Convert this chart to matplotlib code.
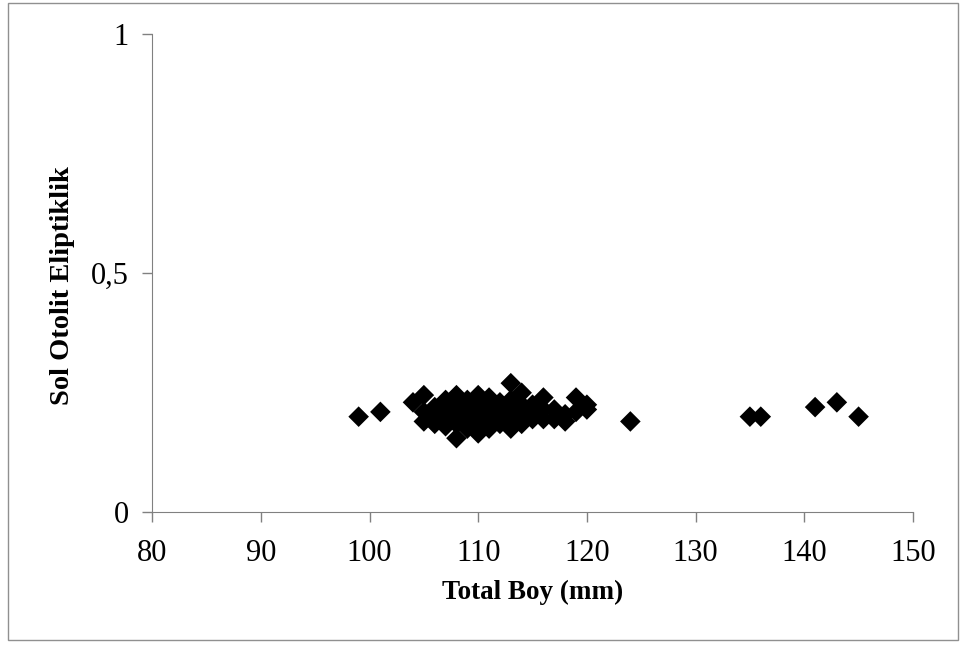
import matplotlib.pyplot as plt
from matplotlib.patches import Rectangle

plt.rcParams['font.family'] = ['Liberation Serif', 'DejaVu Serif']

# total length (mm) and left otolith ellipticity
boy = [99, 101, 104, 105, 105, 105, 106, 106, 106, 107, 107, 107, 107, 108, 108, 108, 108, 108,
       109, 109, 109, 109, 110, 110, 110, 110, 110, 110, 111, 111, 111, 111, 111, 112, 112, 112,
       112, 113, 113, 113, 113, 113, 114, 114, 114, 114, 115, 115, 115, 116, 116, 116, 117, 117,
       118, 118, 119, 119, 120, 120, 124, 135, 136, 141, 143, 145]
eliptik = [0.20, 0.21, 0.23, 0.245, 0.21, 0.19, 0.22, 0.20, 0.185, 0.235, 0.215, 0.20, 0.18,
           0.245, 0.225, 0.205, 0.185, 0.155, 0.235, 0.215, 0.195, 0.175, 0.245, 0.225, 0.21,
           0.195, 0.18, 0.165, 0.24, 0.22, 0.205, 0.19, 0.175, 0.23, 0.215, 0.20, 0.185,
           0.27, 0.235, 0.215, 0.195, 0.175, 0.25, 0.225, 0.205, 0.185, 0.225, 0.21, 0.195,
           0.24, 0.215, 0.195, 0.215, 0.195, 0.205, 0.19, 0.24, 0.21, 0.225, 0.215,
           0.19, 0.20, 0.20, 0.22, 0.23, 0.20]

fig = plt.figure(figsize=(9.63, 6.46), dpi=100)
ax = fig.add_axes([0.158, 0.207, 0.79, 0.74])

ax.scatter(boy, eliptik, marker='D', s=110, color='black', edgecolors='none', zorder=3)

ax.set_xlim(80, 150)
ax.set_ylim(0, 1)
ax.set_xticks(range(80, 151, 10))
ax.set_yticks([0, 0.5, 1])
ax.set_yticklabels(['0', '0,5', '1'])
ax.tick_params(labelsize=22, length=7, width=1, color='#808080', direction='out')
ax.tick_params(axis='x', pad=12)
ax.tick_params(axis='y', pad=10)
for s in ['top', 'right']:
    ax.spines[s].set_visible(False)
for s in ['left', 'bottom']:
    ax.spines[s].set_color('#808080')

ax.set_xlabel('Total Boy (mm)', fontsize=19.5, fontweight='bold', labelpad=9)
ax.set_ylabel('Sol Otolit Eliptiklik', fontsize=20.5, fontweight='bold', labelpad=11, y=0.474)

fig.patches.append(Rectangle((8 / 963, 6 / 646), 950 / 963, 637 / 646, transform=fig.transFigure,
                             fill=False, edgecolor='#909090', linewidth=1))

fig.savefig('out.png', dpi=100)
